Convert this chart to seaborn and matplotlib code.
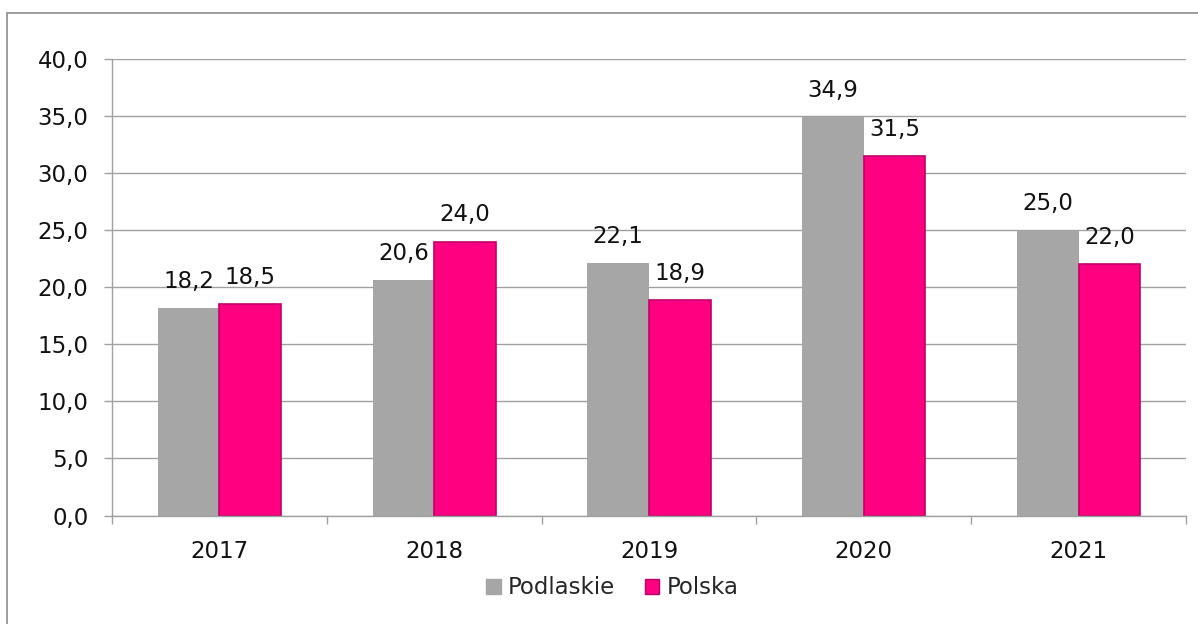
import numpy as np
import pandas as pd
import matplotlib
matplotlib.use("Agg")
import matplotlib.pyplot as plt
import seaborn as sns
from matplotlib.ticker import FuncFormatter, FixedLocator
from matplotlib.patches import Rectangle

years = ["2017", "2018", "2019", "2020", "2021"]
podlaskie = [18.2, 20.6, 22.1, 34.9, 25.0]
polska = [18.5, 24.0, 18.9, 31.5, 22.0]
series = ["Podlaskie", "Polska"]
colors = {"Podlaskie": "#A6A6A6", "Polska": "#FF0080"}
edge_colors = {"Podlaskie": "none", "Polska": "#C0006A"}

df = pd.DataFrame({
    "year": years * 2,
    "value": podlaskie + polska,
    "series": ["Podlaskie"] * len(years) + ["Polska"] * len(years),
})

sns.set_style("white")
plt.rcParams["font.family"] = ["DejaVu Sans"]
fs = 16.5
txt_c = "#111111"

W, H = 1198, 624
fig = plt.figure(figsize=(W / 100, H / 100), dpi=100)
ax = fig.add_axes([112 / W, 1 - 515.5 / H, (1186 - 112) / W, (515.5 - 59) / H])

sns.barplot(data=df, x="year", y="value", hue="series", hue_order=series,
            palette=colors, width=0.573, gap=0, saturation=1, ax=ax,
            legend=False)

for cont, name in zip(ax.containers, series):
    for bar in cont:
        bar.set_edgecolor(edge_colors[name])
        bar.set_linewidth(1.2 if name == "Polska" else 0)
    ax.bar_label(cont, labels=[f"{v:.1f}".replace(".", ",") for v in cont.datavalues],
                 padding=11, fontsize=fs, color=txt_c)

grid_c = "#A0A0A0"
ax.set_ylim(0, 40)
ax.set_xlim(-0.5, len(years) - 0.5)
ax.set_yticks(np.arange(0, 40.1, 5))
ax.yaxis.set_major_formatter(FuncFormatter(lambda v, p: f"{v:.1f}".replace(".", ",")))
ax.yaxis.grid(True, color=grid_c, linewidth=1.0)
ax.set_axisbelow(True)
ax.tick_params(axis="y", length=6, width=1, color=grid_c, pad=11,
               labelsize=fs, labelcolor=txt_c, left=True)
ax.xaxis.set_minor_locator(FixedLocator(np.arange(-0.5, len(years), 1.0)))
ax.tick_params(axis="x", which="major", length=0, pad=18, labelsize=fs,
               labelcolor=txt_c)
ax.tick_params(axis="x", which="minor", length=6, width=1, color=grid_c,
               bottom=True)
ax.set_xlabel("")
ax.set_ylabel("")
for s in ["top", "right"]:
    ax.spines[s].set_visible(False)
for s in ["left", "bottom"]:
    ax.spines[s].set_color(grid_c)
    ax.spines[s].set_linewidth(1.0)

handles = [Rectangle((0, 0), 1, 1, facecolor=colors[n],
                     edgecolor=edge_colors[n] if edge_colors[n] != "none" else colors[n],
                     linewidth=1.0) for n in series]
fig.legend(handles, series, loc="center", bbox_to_anchor=(612 / W, 1 - 588 / H),
           ncol=2, frameon=False, fontsize=fs, handlelength=0.65,
           handleheight=0.65, handletextpad=0.3, columnspacing=1.3)

# chart frame (right and bottom edges fall outside the image)
fig.patches.append(Rectangle((7 / W, -0.2), 1.3, 1.2 - 13 / H,
                             transform=fig.transFigure, fill=False,
                             edgecolor="#8C8C8C", linewidth=1.2))

fig.savefig("out.png", dpi=100)
